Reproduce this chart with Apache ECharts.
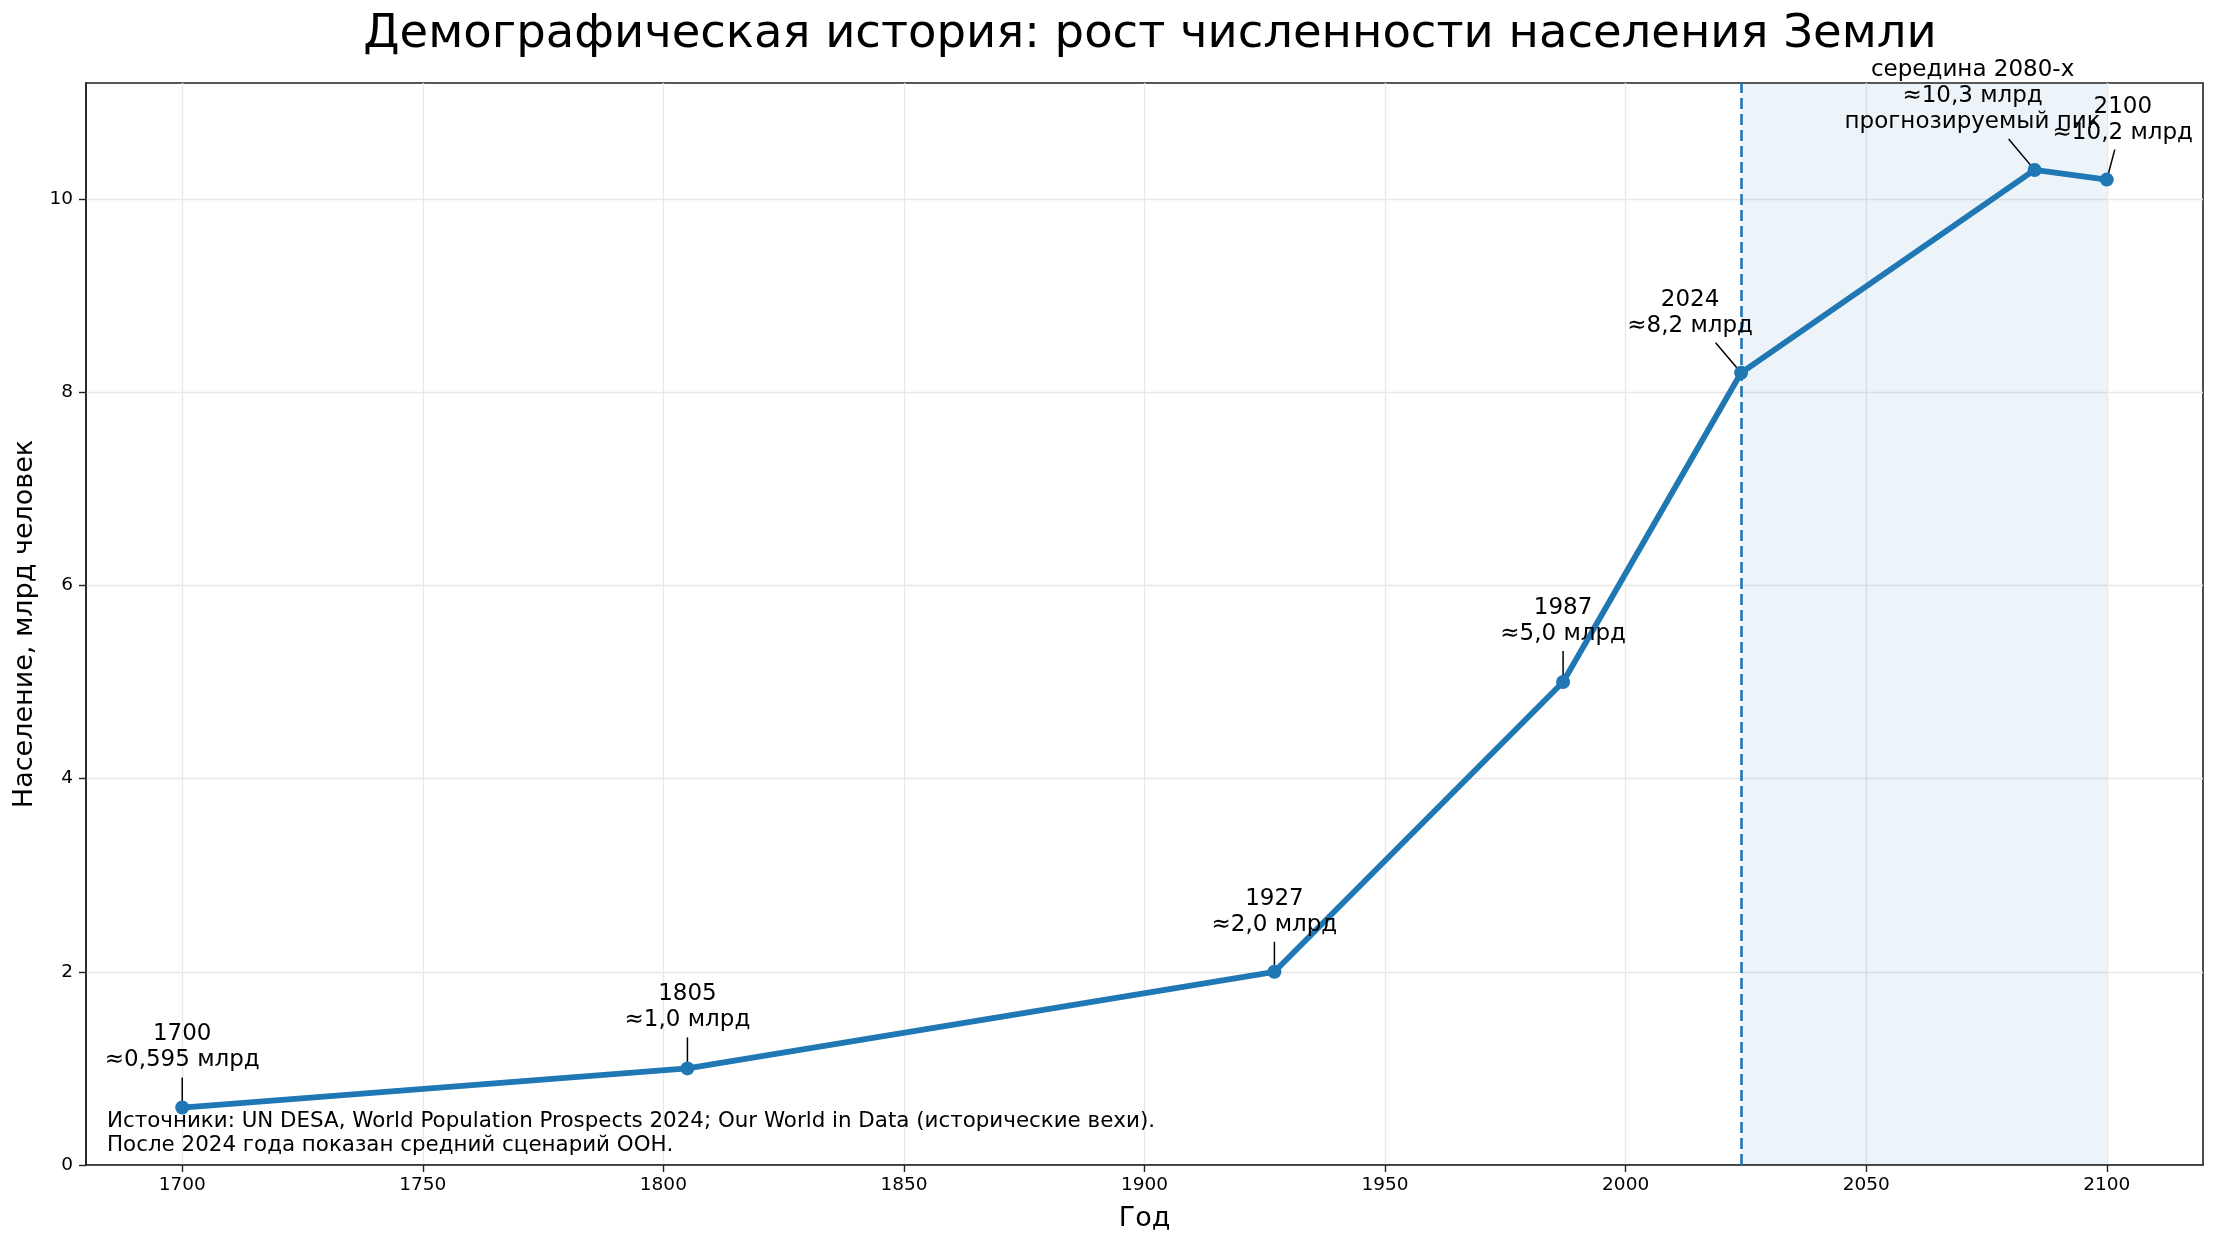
<!DOCTYPE html>
<html>
<head>
<meta charset="utf-8">
<script src="https://cdn.jsdelivr.net/npm/echarts@6/dist/echarts.min.js"></script>
<style>
  html, body { margin: 0; padding: 0; background: #fff; }
  #chart { width: 2217px; height: 1245px; }
</style>
</head>
<body>
<div id="chart"></div>
<script>
// данные
var years = [1700, 1805, 1927, 1987, 2024, 2085, 2100];
var population = [0.595, 1.0, 2.0, 5.0, 8.2, 10.3, 10.2];
var noteTexts = [
  '1700\n≈0,595 млрд',
  '1805\n≈1,0 млрд',
  '1927\n≈2,0 млрд',
  '1987\n≈5,0 млрд',
  '2024\n≈8,2 млрд',
  'середина 2080-х\n≈10,3 млрд\nпрогнозируемый пик',
  '2100\n≈10,2 млрд'
];
var xTicks = [1700, 1750, 1800, 1850, 1900, 1950, 2000, 2050, 2100];
var yTicks = [0, 2, 4, 6, 8, 10];
var forecastStart = 2024;
var forecastEnd = 2100;

// смещения подписей (px) относительно точки
var noteShift = [
  [0, -60], [0, -61], [0, -60], [0, -61], [-51, -60], [-62, -74], [16, -60]
];
var noteLineHeight = 26;

var blue = '#1f77b4';
var font = 'DejaVu Sans';

var chart = echarts.init(document.getElementById('chart'));

// линия-выноска от подписи к точке
function renderLeader(params, api) {
  var idx = api.value(2);
  var pt = api.coord([api.value(0), api.value(1)]);
  var s = noteShift[idx];
  var cx = pt[0] + s[0], cy = pt[1] + s[1];
  var n = noteTexts[idx].split('\n').length;
  var hh = n * noteLineHeight / 2 + 4;
  var vx = pt[0] - cx, vy = pt[1] - cy;
  var len = Math.sqrt(vx * vx + vy * vy);
  var t = hh / vy;
  var x1 = cx + vx * t, y1 = cy + vy * t;
  var x2 = pt[0] - vx / len * 4, y2 = pt[1] - vy / len * 4;
  return {
    type: 'line',
    shape: { x1: x1, y1: y1, x2: x2, y2: y2 },
    style: { stroke: '#000', lineWidth: 1.5 }
  };
}

var option = {
  animation: false,
  backgroundColor: '#fff',
  textStyle: { fontFamily: font },
  title: {
    text: 'Демографическая история: рост численности населения Земли',
    left: 1145,
    textAlign: 'center',
    top: 6,
    textStyle: { fontFamily: font, fontSize: 46.5, fontWeight: 'normal', color: '#000' }
  },
  grid: {
    left: 86, right: 14, top: 83, bottom: 80,
    show: true, borderColor: '#222', borderWidth: 1.6, backgroundColor: 'transparent'
  },
  xAxis: {
    type: 'value',
    min: 1680,
    max: 2120,
    name: 'Год',
    nameLocation: 'middle',
    nameGap: 40,
    nameTextStyle: { fontFamily: font, fontSize: 27, color: '#000' },
    axisLine: { show: true, onZero: false, lineStyle: { color: '#222', width: 1.6 } },
    axisTick: { show: true, length: 7, customValues: xTicks, lineStyle: { color: '#222', width: 1.4 } },
    axisLabel: {
      customValues: xTicks, margin: 11, fontSize: 18.5, color: '#000', fontFamily: font,
      formatter: function (v) { return String(v); }
    },
    splitLine: { show: true, lineStyle: { color: '#e8e8e8', width: 1.4 } }
  },
  yAxis: {
    type: 'value',
    min: 0,
    max: 11.2,
    name: 'Население, млрд человек',
    nameLocation: 'middle',
    nameGap: 48,
    nameTextStyle: { fontFamily: font, fontSize: 27, color: '#000' },
    axisLine: { show: true, lineStyle: { color: '#222', width: 1.6 } },
    axisTick: { show: true, length: 7, customValues: yTicks, lineStyle: { color: '#222', width: 1.4 } },
    axisLabel: { customValues: yTicks, margin: 13, fontSize: 18.5, color: '#000', fontFamily: font },
    splitLine: { show: true, lineStyle: { color: '#e8e8e8', width: 1.4 } }
  },
  series: [{
    type: 'line',
    data: years.map(function (y, i) { return [y, population[i]]; }),
    symbol: 'circle',
    symbolSize: 14,
    lineStyle: { color: blue, width: 5.8 },
    itemStyle: { color: blue },
    z: 5,
    label: {
      show: true,
      position: 'inside',
      color: '#000',
      fontFamily: font,
      fontSize: 23,
      lineHeight: noteLineHeight,
      align: 'center',
      formatter: function (p) { return noteTexts[p.dataIndex]; }
    },
    labelLayout: function (p) {
      var s = noteShift[p.dataIndex];
      return { dx: s[0], dy: s[1], hideOverlap: false, moveOverlap: false };
    },
    markArea: {
      silent: true,
      itemStyle: { color: 'rgba(31,119,180,0.08)' },
      data: [[{ xAxis: forecastStart }, { xAxis: forecastEnd }]]
    },
    markLine: {
      silent: true,
      symbol: 'none',
      label: { show: false },
      lineStyle: { color: blue, width: 2.6, type: [11, 5] },
      data: [{ xAxis: forecastStart }]
    }
  }, {
    type: 'custom',
    silent: true,
    clip: false,
    z: 4,
    data: years.map(function (y, i) { return [y, population[i], i]; }),
    renderItem: renderLeader
  }],
  graphic: [{
    type: 'text',
    left: 107,
    top: 1109,
    z: 100,
    style: {
      text: 'Источники: UN DESA, World Population Prospects 2024; Our World in Data (исторические вехи).\nПосле 2024 года показан средний сценарий ООН.',
      fontFamily: font,
      fontSize: 21.4,
      lineHeight: 24,
      fill: '#000'
    }
  }]
};

chart.setOption(option);
</script>
</body>
</html>
